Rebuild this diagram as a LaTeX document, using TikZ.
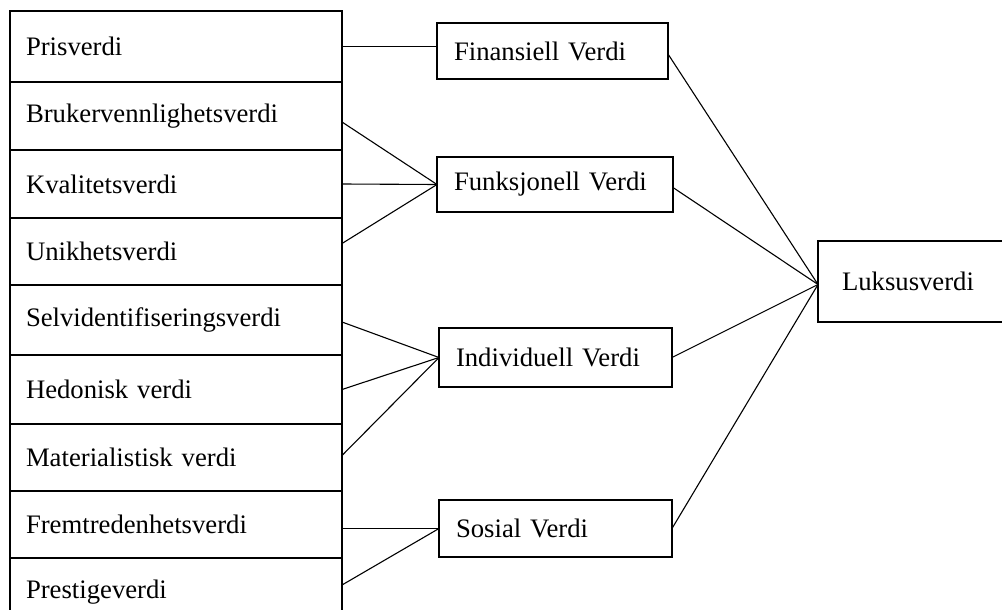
\documentclass[tikz,border=0pt]{standalone}
\usepackage{fontspec}
\setmainfont{Liberation Serif}
\begin{document}
\begin{tikzpicture}[x=1pt,y=-1pt,
  box/.style={draw, line width=1.6pt, rectangle, anchor=north west,
    inner sep=0pt, outer sep=0pt, align=left,
    font=\fontsize{26.7}{32}\selectfont},
  item/.style={box, minimum width=332pt, text width=300pt},
  group/.style={box},
  link/.style={line width=1.1pt}]
\clip (0,0) rectangle (1002,610);
\fill[white] (0,0) rectangle (1002,610);

% left column of value items
\node[item, minimum height=71pt] (r1) at (10,11)  {Prisverdi};
\node[item, minimum height=68pt] (r2) at (10,82)  {Brukervennlighetsverdi};
\node[item, minimum height=68pt] (r3) at (10,150) {Kvalitetsverdi};
\node[item, minimum height=67pt] (r4) at (10,218) {Unikhetsverdi};
\node[item, minimum height=70pt] (r5) at (10,285) {Selvidentifiseringsverdi};
\node[item, minimum height=69pt] (r6) at (10,355) {Hedonisk verdi};
\node[item, minimum height=67pt] (r7) at (10,424) {Materialistisk verdi};
\node[item, minimum height=67pt] (r8) at (10,491) {Fremtredenhetsverdi};
\node[item, minimum height=68pt] (r9) at (10,558) {Prestigeverdi};

% value groups
\node[group, minimum width=231pt, text width=197pt, minimum height=56pt] (m1) at (437,23)  {Finansiell Verdi};
\node[group, minimum width=236pt, text width=202pt, minimum height=55pt] (m2) at (437,157) {Funksjonell Verdi};
\node[group, minimum width=233pt, text width=199pt, minimum height=59pt] (m3) at (439,328) {Individuell Verdi};
\node[group, minimum width=233pt, text width=199pt, minimum height=57pt] (m4) at (439,500) {Sosial Verdi};

% overall value
\node[group, minimum width=200pt, text width=152pt, minimum height=81pt] (lux) at (818,241) {Luksusverdi};

% items to groups
\draw[link] (r1.east) -- ([yshift=4.5pt]m1.west);
\draw[link] ([yshift=-6pt]r2.east) -- (m2.west);
\draw[link] (r3.east) -- (m2.west);
\draw[link] ([yshift=8pt]r4.east) -- (m2.west);
\draw[link] ([yshift=-2pt]r5.east) -- (m3.west);
\draw[link] (r6.east) -- (m3.west);
\draw[link] ([yshift=2pt]r7.east) -- (m3.west);
\draw[link] ([yshift=-4pt]r8.east) -- (m4.west);
\draw[link] ([yshift=7pt]r9.east) -- (m4.west);

% groups to overall value
\draw[link] ([yshift=-3pt]m1.east) -- ([yshift=-3pt]lux.west);
\draw[link] ([yshift=-3pt]m2.east) -- ([yshift=-3pt]lux.west);
\draw[link] (m3.east) -- ([yshift=-3pt]lux.west);
\draw[link] (m4.east) -- ([yshift=-3pt]lux.west);
\end{tikzpicture}
\end{document}
